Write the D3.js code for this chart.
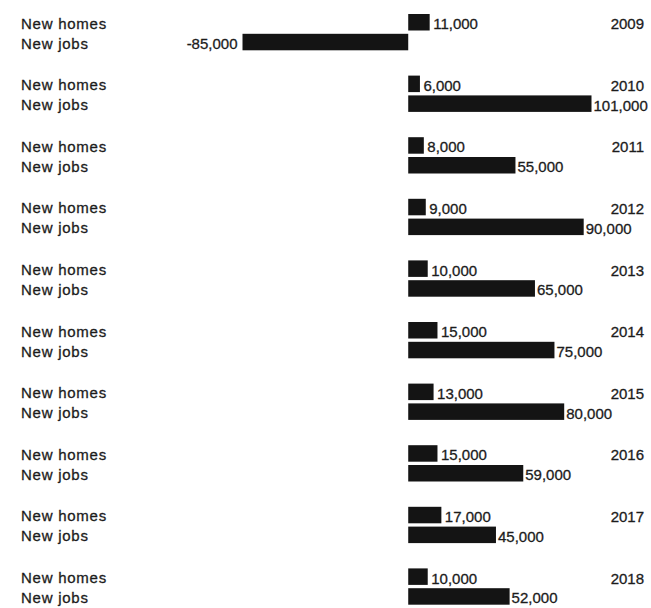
<!DOCTYPE html>
<html>
<head>
<meta charset="utf-8">
<script src="https://cdn.jsdelivr.net/npm/d3@7"></script>
<style>
  html, body { margin: 0; padding: 0; background: #fff; }
  text { font-family: "Liberation Sans", Arial, Helvetica, sans-serif; font-size: 15px; fill: #1c1c1c; stroke: #1c1c1c; stroke-width: 0.3px; }
  text.series { letter-spacing: 0.75px; }
</style>
</head>
<body>
<svg id="chart" width="651" height="608"></svg>
<script>
const years = ["2009","2010","2011","2012","2013","2014","2015","2016","2017","2018"];
const seriesLabels = ["New homes", "New jobs"];
const newHomes = [11000, 6000, 8000, 9000, 10000, 15000, 13000, 15000, 17000, 10000];
const newJobs  = [-85000, 101000, 55000, 90000, 65000, 75000, 80000, 59000, 45000, 52000];

const svg = d3.select("#chart");
const locale = d3.formatLocale({decimal: ".", thousands: ",", grouping: [3], currency: ["", ""], minus: "-"});
const fmt = locale.format(",");

// horizontal value scale (clamped at right edge so the longest label fits)
const x = d3.scaleLinear().domain([-85000, 94000]).range([242.5, 591.5]).clamp(true);

// vertical group scale
const step = 61.6;
const yGroup = d3.scaleBand().domain(years).range([14, 14 + step * years.length]).paddingInner(0).paddingOuter(0);
const yRow = d3.scaleOrdinal().domain(seriesLabels).range([0, 19.8]);
const barH = 16.5;

const rows = [];
years.forEach((yr, i) => {
  rows.push({year: yr, series: seriesLabels[0], value: newHomes[i]});
  rows.push({year: yr, series: seriesLabels[1], value: newJobs[i]});
});

const g = svg.append("g");

// bars
g.selectAll("rect.bar").data(rows).join("rect")
  .attr("class", "bar")
  .attr("x", d => Math.min(x(0), x(d.value)))
  .attr("width", d => Math.abs(x(d.value) - x(0)))
  .attr("y", d => yGroup(d.year) + yRow(d.series))
  .attr("height", barH)
  .attr("fill", "#141414");

// series labels on the left
g.selectAll("text.series").data(rows).join("text")
  .attr("class", "series")
  .attr("x", 21)
  .attr("y", d => yGroup(d.year) + yRow(d.series) + (d.series === seriesLabels[0] ? 14.5 : 14.8))
  .text(d => d.series);

// value labels
g.selectAll("text.value").data(rows).join("text")
  .attr("class", "value")
  .attr("x", d => d.value < 0 ? x(d.value) - 5 : x(d.value) + (d.series === seriesLabels[0] ? 3.5 : 2))
  .attr("text-anchor", d => d.value < 0 ? "end" : "start")
  .attr("y", d => yGroup(d.year) + yRow(d.series) + 15.2)
  .text(d => fmt(d.value));

// year labels
g.selectAll("text.year").data(years).join("text")
  .attr("class", "year")
  .attr("x", 644)
  .attr("text-anchor", "end")
  .attr("y", d => yGroup(d) + 15.2)
  .text(d => d);
</script>
</body>
</html>
